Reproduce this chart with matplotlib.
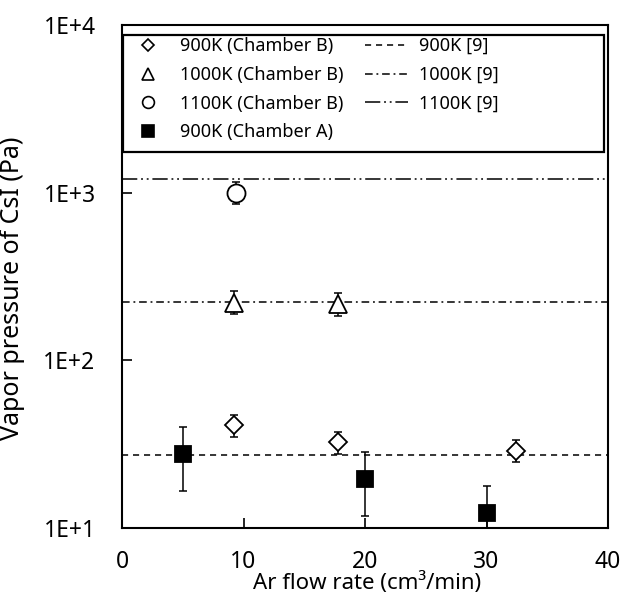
import matplotlib
matplotlib.use("Agg")
import matplotlib.pyplot as plt
from matplotlib.lines import Line2D
from matplotlib.patches import Rectangle

plt.rcParams['font.family'] = ['Noto Sans', 'DejaVu Sans']

# Chamber B, 900 K
b900_x = [9.2, 17.8, 32.4]
b900_y = [41.0, 32.5, 28.7]
b900_lo = [34.8, 27.6, 24.7]
b900_hi = [47.1, 37.3, 33.4]
# Chamber B, 1000 K
b1000_x = [9.2, 17.8]
b1000_y = [220, 216]
b1000_lo = [190, 185]
b1000_hi = [258, 251]
# Chamber B, 1100 K
b1100_x = [9.4]
b1100_y = [1000]
b1100_lo = [861]
b1100_hi = [1162]
# Chamber A, 900 K
a900_x = [5, 20, 30]
a900_y = [27.6, 19.6, 12.3]
a900_lo = [16.6, 11.8, 8.0]
a900_hi = [39.9, 28.3, 17.8]
# Reference values [9]
ref_labels = ['900K [9]', '1000K [9]', '1100K [9]']
ref_values = [27.2, 224, 1210]

ticks_y = [10, 100, 1000, 10000]
ticks_y_labels = ['1E+1', '1E+2', '1E+3', '1E+4']
ticks_x = [0, 10, 20, 30, 40]

W, H = 624, 595
fig = plt.figure(figsize=(W / 100, H / 100), dpi=100)
ax = fig.add_axes([122 / W, 1 - 528 / H, (608 - 122) / W, (528 - 25) / H])
ax.set_yscale('log')
ax.set_xlim(0, 40)
ax.set_ylim(10, 10000)

ref_styles = [(0, (4, 3.2)), (0, (5, 2.5, 1.2, 2.5)), (0, (10, 2.5, 1.2, 2.5, 1.2, 2.5))]
ref_handles = []
for v, ls, lab in zip(ref_values, ref_styles, ref_labels):
    ax.axhline(v, color='black', lw=1.1, linestyle=ls, zorder=1)
    ref_handles.append(Line2D([], [], color='black', lw=1.1, linestyle=ls, label=lab))

def series(x, y, lo, hi, marker, ms, lms, face, label):
    yerr = [[yy - l for yy, l in zip(y, lo)], [h - yy for yy, h in zip(y, hi)]]
    ax.errorbar(x, y, yerr=yerr, fmt='none', ecolor='black', elinewidth=1.1,
                capsize=2.8, capthick=1.1, zorder=2)
    ax.plot(x, y, linestyle='none', marker=marker, ms=ms, mfc=face, mec='black',
            mew=1.3, zorder=3)
    return Line2D([], [], linestyle='none', marker=marker, ms=lms, mfc=face,
                  mec='black', mew=1.2, label=label)

h1 = series(b900_x, b900_y, b900_lo, b900_hi, 'D', 8.8, 6.0, 'white', '900K (Chamber B)')
h2 = series(b1000_x, b1000_y, b1000_lo, b1000_hi, '^', 12.5, 8.5, 'white', '1000K (Chamber B)')
h3 = series(b1100_x, b1100_y, b1100_lo, b1100_hi, 'o', 13, 8.5, 'white', '1100K (Chamber B)')
h4 = series(a900_x, a900_y, a900_lo, a900_hi, 's', 11.5, 9.0, 'black', '900K (Chamber A)')

ax.set_yticks(ticks_y)
ax.set_yticklabels(ticks_y_labels)
ax.yaxis.set_minor_locator(matplotlib.ticker.NullLocator())
ax.set_xticks(ticks_x)
ax.set_xticklabels([str(t) for t in ticks_x])
ax.tick_params(direction='in', length=7, width=1.2, labelsize=16.5)
ax.tick_params(axis='y', pad=19)
ax.tick_params(axis='x', pad=15.5)
for s in ax.spines.values():
    s.set_linewidth(1.5)

ax.set_xlabel('Ar flow rate (cm³/min)', fontsize=16)
ax.set_ylabel('Vapor pressure of CsI (Pa)', fontsize=18)
ax.xaxis.set_label_coords((367.5 - 122) / 486, (528 - 572) / 503)
ax.yaxis.set_label_coords((25 - 122) / 486, (528 - 288) / 503)

handles = [h1, h2, h3, h4] + ref_handles
leg = fig.legend(handles=handles, ncol=2, loc='upper left',
                 bbox_to_anchor=(127 / W, 1 - 37 / H), bbox_transform=fig.transFigure,
                 fontsize=13, frameon=False,
                 handlelength=2.35, handletextpad=0.6, labelspacing=0.6,
                 borderpad=0.0, columnspacing=1.2, borderaxespad=0)
fig.add_artist(Rectangle((123 / W, 1 - 152 / H), (604 - 123) / W, (152 - 35) / H,
                         transform=fig.transFigure, fill=False, edgecolor='black',
                         linewidth=1.6, zorder=5))

fig.savefig('out.png', dpi=100)
